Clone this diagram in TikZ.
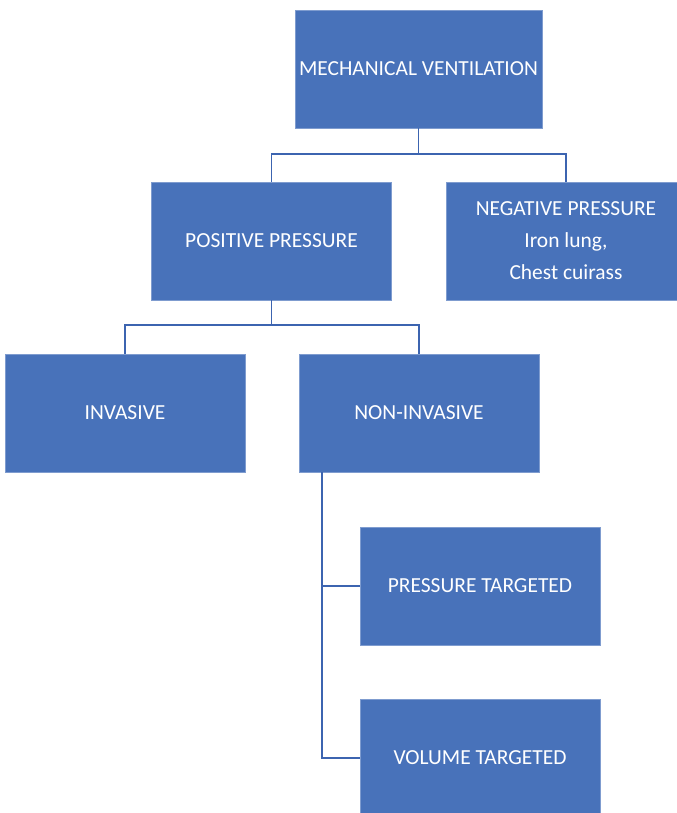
\documentclass[tikz,border=0pt]{standalone}
\usepackage{fontspec}
\setmainfont{Carlito}
\definecolor{boxblue}{RGB}{72,114,186}
\definecolor{lineblue}{RGB}{60,100,176}

\begin{document}
\begin{tikzpicture}[x=0.75pt, y=-0.75pt,
    box/.style={fill=boxblue, draw=boxblue!70!white, line width=0.4pt, text=white,
        minimum width=240*0.75pt, minimum height=118*0.75pt, align=center,
        font={\fontsize{16.1}{24}\selectfont}, inner sep=0pt},
    link/.style={lineblue, line width=1.4pt}]
    \useasboundingbox (0,0) rectangle (677,813);
    \begin{scope}
    \clip (0,0) rectangle (677,813);
    \node[box, minimum width=247*0.75pt] (mv) at (418.5,69) {MECHANICAL VENTILATION};
    \node[box] (pos) at (271.5,241) {POSITIVE PRESSURE};
    \node[box] (neg) at (566,241) {NEGATIVE PRESSURE\\Iron lung,\\Chest cuirass};
    \node[box] (inv) at (125,413) {INVASIVE};
    \node[box] (noninv) at (419,413) {NON-INVASIVE};
    \node[box] (prs) at (480,586) {PRESSURE TARGETED};
    \node[box] (vol) at (480,758) {VOLUME TARGETED};
    \end{scope}
    % top level
    \coordinate (mvjoin) at (418.5,154);
    \draw[link] (mv.south) -- (mvjoin);
    \draw[link] (mvjoin) -| (pos.north);
    \draw[link] (mvjoin) -| (neg.north);
    % positive pressure
    \coordinate (posjoin) at (271.5,325);
    \draw[link] (pos.south) -- (posjoin);
    \draw[link] (posjoin) -| (inv.north);
    \draw[link] (posjoin) -| (noninv.north);
    % non-invasive
    \coordinate (nitop) at ([xshift=23*0.75pt]noninv.south west);
    \draw[link] (nitop) |- (prs.west);
    \draw[link] (nitop) |- (vol.west);
\end{tikzpicture}
\end{document}
